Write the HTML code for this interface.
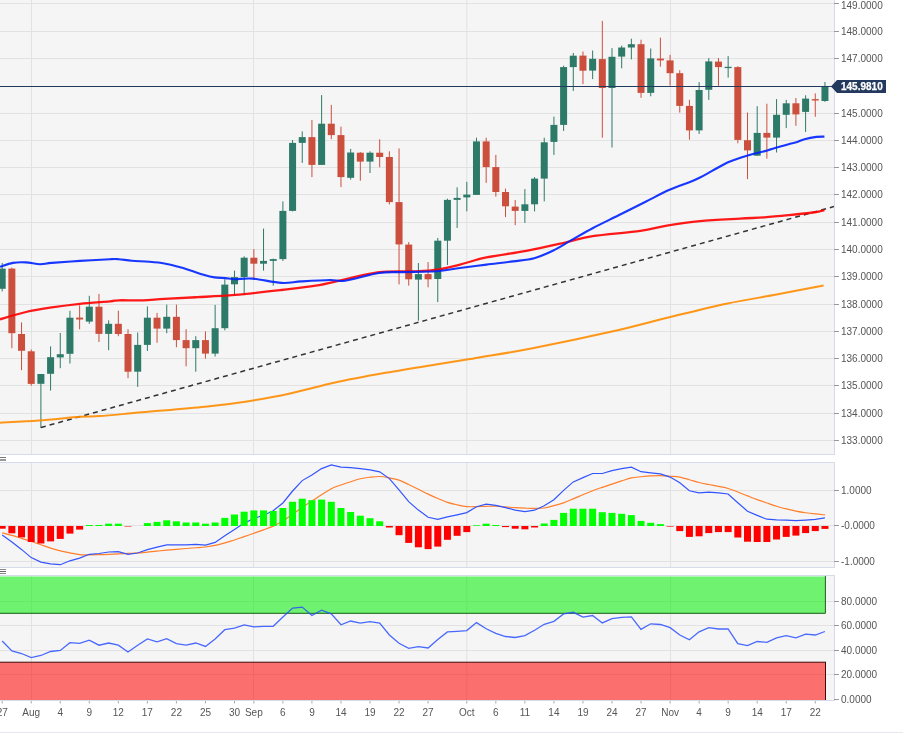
<!DOCTYPE html><html><head><meta charset="utf-8"><style>html,body{margin:0;padding:0;background:#fff;overflow:hidden}svg{display:block;will-change:transform}text{font-family:"Liberation Sans",sans-serif;font-size:10px;fill:#555}</style></head><body>
<svg width="905" height="735" viewBox="0 0 905 735">
<rect x="0" y="0" width="905" height="735" fill="#fff"/>
<rect x="0" y="0" width="834" height="454" fill="#f5f5f5"/>
<rect x="0" y="462" width="834" height="105" fill="#f5f5f5"/>
<rect x="0" y="575" width="834" height="126" fill="#f5f5f5"/>
<rect x="0" y="440" width="834" height="1" fill="#e2e2e2"/>
<rect x="0" y="413" width="834" height="1" fill="#e2e2e2"/>
<rect x="0" y="385" width="834" height="1" fill="#e2e2e2"/>
<rect x="0" y="358" width="834" height="1" fill="#e2e2e2"/>
<rect x="0" y="331" width="834" height="1" fill="#e2e2e2"/>
<rect x="0" y="304" width="834" height="1" fill="#e2e2e2"/>
<rect x="0" y="276" width="834" height="1" fill="#e2e2e2"/>
<rect x="0" y="249" width="834" height="1" fill="#e2e2e2"/>
<rect x="0" y="222" width="834" height="1" fill="#e2e2e2"/>
<rect x="0" y="194" width="834" height="1" fill="#e2e2e2"/>
<rect x="0" y="167" width="834" height="1" fill="#e2e2e2"/>
<rect x="0" y="140" width="834" height="1" fill="#e2e2e2"/>
<rect x="0" y="113" width="834" height="1" fill="#e2e2e2"/>
<rect x="0" y="86" width="834" height="1" fill="#e2e2e2"/>
<rect x="0" y="58" width="834" height="1" fill="#e2e2e2"/>
<rect x="0" y="31" width="834" height="1" fill="#e2e2e2"/>
<rect x="0" y="3" width="834" height="1" fill="#e2e2e2"/>
<rect x="0" y="490" width="834" height="1" fill="#e2e2e2"/>
<rect x="0" y="525" width="834" height="1" fill="#e2e2e2"/>
<rect x="0" y="561" width="834" height="1" fill="#e2e2e2"/>
<rect x="0" y="601" width="834" height="1" fill="#e2e2e2"/>
<rect x="0" y="625" width="834" height="1" fill="#e2e2e2"/>
<rect x="0" y="650" width="834" height="1" fill="#e2e2e2"/>
<rect x="0" y="674" width="834" height="1" fill="#e2e2e2"/>
<line x1="31.50" y1="0" x2="31.50" y2="454" stroke="#e2e2e2" stroke-width="1"/>
<line x1="31.50" y1="462" x2="31.50" y2="567" stroke="#e2e2e2" stroke-width="1"/>
<line x1="31.50" y1="575" x2="31.50" y2="700" stroke="#e2e2e2" stroke-width="1"/>
<line x1="253.50" y1="0" x2="253.50" y2="454" stroke="#e2e2e2" stroke-width="1"/>
<line x1="253.50" y1="462" x2="253.50" y2="567" stroke="#e2e2e2" stroke-width="1"/>
<line x1="253.50" y1="575" x2="253.50" y2="700" stroke="#e2e2e2" stroke-width="1"/>
<line x1="466.80" y1="0" x2="466.80" y2="454" stroke="#e2e2e2" stroke-width="1"/>
<line x1="466.80" y1="462" x2="466.80" y2="567" stroke="#e2e2e2" stroke-width="1"/>
<line x1="466.80" y1="575" x2="466.80" y2="700" stroke="#e2e2e2" stroke-width="1"/>
<line x1="670.60" y1="0" x2="670.60" y2="454" stroke="#e2e2e2" stroke-width="1"/>
<line x1="670.60" y1="462" x2="670.60" y2="567" stroke="#e2e2e2" stroke-width="1"/>
<line x1="670.60" y1="575" x2="670.60" y2="700" stroke="#e2e2e2" stroke-width="1"/>
<rect x="0" y="454" width="835" height="1" fill="#d5dbe8"/>
<rect x="834" y="0" width="1" height="455" fill="#d5dbe8"/>
<rect x="0" y="462" width="835" height="1" fill="#d5dbe8"/>
<rect x="0" y="567" width="835" height="1" fill="#d5dbe8"/>
<rect x="834" y="462" width="1" height="106" fill="#d5dbe8"/>
<rect x="0" y="575" width="835" height="1" fill="#d5dbe8"/>
<rect x="0" y="700" width="835" height="1" fill="#d5dbe8"/>
<rect x="834" y="575" width="1" height="126" fill="#d5dbe8"/>
<rect x="0" y="457" width="6" height="1" fill="#777"/><rect x="0" y="459" width="6" height="2" fill="#999"/>
<rect x="0" y="569" width="6" height="1" fill="#888"/><rect x="0" y="571" width="6" height="1" fill="#666"/><rect x="0" y="573" width="6" height="1" fill="#888"/>
<defs><clipPath id="cp"><rect x="0" y="0" width="834" height="454"/></clipPath><clipPath id="cm"><rect x="0" y="463" width="834" height="104"/></clipPath><clipPath id="cr"><rect x="0" y="576" width="834" height="124"/></clipPath></defs>
<g clip-path="url(#cp)">
<rect x="1.68" y="262.9" width="1" height="28.5" fill="#2e7a69"/>
<rect x="-1.32" y="268.6" width="7" height="20.2" fill="#2e7a69"/>
<rect x="11.36" y="267.6" width="1" height="80.6" fill="#cc4f3d"/>
<rect x="8.36" y="268.6" width="7" height="64.6" fill="#cc4f3d"/>
<rect x="21.04" y="322.4" width="1" height="47.8" fill="#cc4f3d"/>
<rect x="18.04" y="334.0" width="7" height="16.8" fill="#cc4f3d"/>
<rect x="30.72" y="349.5" width="1" height="36.2" fill="#cc4f3d"/>
<rect x="27.72" y="351.3" width="7" height="32.6" fill="#cc4f3d"/>
<rect x="40.40" y="374.0" width="1" height="54.0" fill="#2e7a69"/>
<rect x="37.40" y="374.0" width="7" height="9.8" fill="#2e7a69"/>
<rect x="50.08" y="346.4" width="1" height="44.2" fill="#2e7a69"/>
<rect x="47.08" y="357.2" width="7" height="16.6" fill="#2e7a69"/>
<rect x="59.76" y="333.0" width="1" height="35.2" fill="#2e7a69"/>
<rect x="56.76" y="354.2" width="7" height="3.2" fill="#2e7a69"/>
<rect x="69.44" y="310.8" width="1" height="52.7" fill="#2e7a69"/>
<rect x="66.44" y="317.7" width="7" height="36.1" fill="#2e7a69"/>
<rect x="79.12" y="305.3" width="1" height="24.0" fill="#cc4f3d"/>
<rect x="76.12" y="317.6" width="7" height="1.9" fill="#cc4f3d"/>
<rect x="88.80" y="295.8" width="1" height="28.0" fill="#2e7a69"/>
<rect x="85.80" y="306.7" width="7" height="14.9" fill="#2e7a69"/>
<rect x="98.48" y="293.9" width="1" height="48.1" fill="#cc4f3d"/>
<rect x="95.48" y="306.7" width="7" height="27.2" fill="#cc4f3d"/>
<rect x="108.16" y="320.3" width="1" height="29.9" fill="#2e7a69"/>
<rect x="105.16" y="323.8" width="7" height="10.1" fill="#2e7a69"/>
<rect x="117.84" y="310.7" width="1" height="25.5" fill="#cc4f3d"/>
<rect x="114.84" y="323.8" width="7" height="10.2" fill="#cc4f3d"/>
<rect x="127.51" y="329.2" width="1" height="49.0" fill="#cc4f3d"/>
<rect x="124.51" y="334.0" width="7" height="37.7" fill="#cc4f3d"/>
<rect x="137.19" y="332.5" width="1" height="54.4" fill="#2e7a69"/>
<rect x="134.19" y="344.9" width="7" height="26.8" fill="#2e7a69"/>
<rect x="146.87" y="306.4" width="1" height="44.6" fill="#2e7a69"/>
<rect x="143.87" y="317.7" width="7" height="27.2" fill="#2e7a69"/>
<rect x="156.55" y="312.9" width="1" height="29.8" fill="#cc4f3d"/>
<rect x="153.55" y="317.7" width="7" height="10.9" fill="#cc4f3d"/>
<rect x="166.23" y="304.6" width="1" height="28.6" fill="#2e7a69"/>
<rect x="163.23" y="316.8" width="7" height="11.8" fill="#2e7a69"/>
<rect x="175.91" y="304.6" width="1" height="42.7" fill="#cc4f3d"/>
<rect x="172.91" y="316.8" width="7" height="23.3" fill="#cc4f3d"/>
<rect x="185.59" y="329.2" width="1" height="37.1" fill="#cc4f3d"/>
<rect x="182.59" y="340.1" width="7" height="8.1" fill="#cc4f3d"/>
<rect x="195.27" y="336.2" width="1" height="35.5" fill="#2e7a69"/>
<rect x="192.27" y="340.1" width="7" height="8.1" fill="#2e7a69"/>
<rect x="204.95" y="331.4" width="1" height="27.2" fill="#cc4f3d"/>
<rect x="201.95" y="340.1" width="7" height="13.5" fill="#cc4f3d"/>
<rect x="214.63" y="304.9" width="1" height="51.6" fill="#2e7a69"/>
<rect x="211.63" y="328.2" width="7" height="25.4" fill="#2e7a69"/>
<rect x="224.31" y="279.2" width="1" height="51.1" fill="#2e7a69"/>
<rect x="221.31" y="284.6" width="7" height="43.6" fill="#2e7a69"/>
<rect x="233.99" y="270.6" width="1" height="25.1" fill="#2e7a69"/>
<rect x="230.99" y="277.1" width="7" height="7.2" fill="#2e7a69"/>
<rect x="243.67" y="256.3" width="1" height="38.8" fill="#2e7a69"/>
<rect x="240.67" y="257.7" width="7" height="19.4" fill="#2e7a69"/>
<rect x="253.35" y="249.1" width="1" height="29.5" fill="#cc4f3d"/>
<rect x="250.35" y="257.7" width="7" height="6.0" fill="#cc4f3d"/>
<rect x="263.03" y="228.6" width="1" height="42.0" fill="#2e7a69"/>
<rect x="260.03" y="260.9" width="7" height="2.8" fill="#2e7a69"/>
<rect x="272.71" y="258.6" width="1" height="27.1" fill="#2e7a69"/>
<rect x="269.71" y="259.1" width="7" height="1.8" fill="#2e7a69"/>
<rect x="282.39" y="201.4" width="1" height="59.5" fill="#2e7a69"/>
<rect x="279.39" y="210.9" width="7" height="48.2" fill="#2e7a69"/>
<rect x="292.07" y="140.0" width="1" height="71.4" fill="#2e7a69"/>
<rect x="289.07" y="142.9" width="7" height="68.0" fill="#2e7a69"/>
<rect x="301.75" y="131.4" width="1" height="31.5" fill="#2e7a69"/>
<rect x="298.75" y="137.1" width="7" height="5.8" fill="#2e7a69"/>
<rect x="311.43" y="120.0" width="1" height="57.1" fill="#cc4f3d"/>
<rect x="308.43" y="137.1" width="7" height="27.8" fill="#cc4f3d"/>
<rect x="321.11" y="95.1" width="1" height="69.8" fill="#2e7a69"/>
<rect x="318.11" y="123.7" width="7" height="41.2" fill="#2e7a69"/>
<rect x="330.79" y="104.9" width="1" height="34.2" fill="#cc4f3d"/>
<rect x="327.79" y="123.7" width="7" height="11.4" fill="#cc4f3d"/>
<rect x="340.47" y="126.6" width="1" height="60.5" fill="#cc4f3d"/>
<rect x="337.47" y="135.1" width="7" height="42.0" fill="#cc4f3d"/>
<rect x="350.15" y="148.9" width="1" height="30.7" fill="#2e7a69"/>
<rect x="347.15" y="152.5" width="7" height="25.3" fill="#2e7a69"/>
<rect x="359.83" y="152.1" width="1" height="28.6" fill="#cc4f3d"/>
<rect x="356.83" y="152.7" width="7" height="8.9" fill="#cc4f3d"/>
<rect x="369.50" y="151.3" width="1" height="21.7" fill="#2e7a69"/>
<rect x="366.50" y="152.7" width="7" height="8.9" fill="#2e7a69"/>
<rect x="379.18" y="139.3" width="1" height="28.0" fill="#cc4f3d"/>
<rect x="376.18" y="152.7" width="7" height="4.3" fill="#cc4f3d"/>
<rect x="388.86" y="151.3" width="1" height="53.1" fill="#cc4f3d"/>
<rect x="385.86" y="157.0" width="7" height="45.1" fill="#cc4f3d"/>
<rect x="398.54" y="148.4" width="1" height="136.0" fill="#cc4f3d"/>
<rect x="395.54" y="202.1" width="7" height="42.3" fill="#cc4f3d"/>
<rect x="408.22" y="242.1" width="1" height="43.5" fill="#cc4f3d"/>
<rect x="405.22" y="244.6" width="7" height="34.7" fill="#cc4f3d"/>
<rect x="417.90" y="263.0" width="1" height="57.7" fill="#2e7a69"/>
<rect x="414.90" y="274.1" width="7" height="5.5" fill="#2e7a69"/>
<rect x="427.58" y="262.1" width="1" height="25.2" fill="#cc4f3d"/>
<rect x="424.58" y="274.1" width="7" height="5.2" fill="#cc4f3d"/>
<rect x="437.26" y="237.9" width="1" height="64.2" fill="#2e7a69"/>
<rect x="434.26" y="240.7" width="7" height="38.3" fill="#2e7a69"/>
<rect x="446.94" y="198.7" width="1" height="66.3" fill="#2e7a69"/>
<rect x="443.94" y="199.9" width="7" height="40.8" fill="#2e7a69"/>
<rect x="456.62" y="187.3" width="1" height="40.6" fill="#2e7a69"/>
<rect x="453.62" y="197.9" width="7" height="2.0" fill="#2e7a69"/>
<rect x="466.30" y="181.8" width="1" height="29.5" fill="#2e7a69"/>
<rect x="463.30" y="194.6" width="7" height="2.8" fill="#2e7a69"/>
<rect x="475.98" y="137.7" width="1" height="57.2" fill="#2e7a69"/>
<rect x="472.98" y="141.4" width="7" height="53.5" fill="#2e7a69"/>
<rect x="485.66" y="137.7" width="1" height="45.2" fill="#cc4f3d"/>
<rect x="482.66" y="141.4" width="7" height="25.7" fill="#cc4f3d"/>
<rect x="495.34" y="154.9" width="1" height="41.7" fill="#cc4f3d"/>
<rect x="492.34" y="167.1" width="7" height="24.9" fill="#cc4f3d"/>
<rect x="505.02" y="188.6" width="1" height="28.5" fill="#cc4f3d"/>
<rect x="502.02" y="192.0" width="7" height="14.3" fill="#cc4f3d"/>
<rect x="514.70" y="200.0" width="1" height="25.1" fill="#cc4f3d"/>
<rect x="511.70" y="206.6" width="7" height="4.3" fill="#cc4f3d"/>
<rect x="524.38" y="189.1" width="1" height="33.8" fill="#2e7a69"/>
<rect x="521.38" y="204.3" width="7" height="6.6" fill="#2e7a69"/>
<rect x="534.06" y="177.1" width="1" height="34.3" fill="#2e7a69"/>
<rect x="531.06" y="178.6" width="7" height="25.7" fill="#2e7a69"/>
<rect x="543.74" y="137.7" width="1" height="63.7" fill="#2e7a69"/>
<rect x="540.74" y="142.3" width="7" height="36.3" fill="#2e7a69"/>
<rect x="553.42" y="116.6" width="1" height="38.3" fill="#2e7a69"/>
<rect x="550.42" y="124.9" width="7" height="17.0" fill="#2e7a69"/>
<rect x="563.10" y="65.7" width="1" height="65.2" fill="#2e7a69"/>
<rect x="560.10" y="67.1" width="7" height="57.8" fill="#2e7a69"/>
<rect x="572.78" y="52.9" width="1" height="38.0" fill="#2e7a69"/>
<rect x="569.78" y="55.7" width="7" height="11.4" fill="#2e7a69"/>
<rect x="582.46" y="51.5" width="1" height="32.6" fill="#cc4f3d"/>
<rect x="579.46" y="55.6" width="7" height="15.1" fill="#cc4f3d"/>
<rect x="592.14" y="50.5" width="1" height="28.6" fill="#2e7a69"/>
<rect x="589.14" y="58.8" width="7" height="11.8" fill="#2e7a69"/>
<rect x="601.82" y="20.9" width="1" height="116.8" fill="#cc4f3d"/>
<rect x="598.82" y="59.1" width="7" height="28.9" fill="#cc4f3d"/>
<rect x="611.49" y="48.1" width="1" height="99.4" fill="#2e7a69"/>
<rect x="608.49" y="56.8" width="7" height="31.2" fill="#2e7a69"/>
<rect x="621.17" y="45.6" width="1" height="22.7" fill="#2e7a69"/>
<rect x="618.17" y="47.5" width="7" height="9.1" fill="#2e7a69"/>
<rect x="630.85" y="38.7" width="1" height="20.7" fill="#2e7a69"/>
<rect x="627.85" y="44.2" width="7" height="3.3" fill="#2e7a69"/>
<rect x="640.53" y="39.7" width="1" height="58.1" fill="#cc4f3d"/>
<rect x="637.53" y="44.2" width="7" height="48.7" fill="#cc4f3d"/>
<rect x="650.21" y="48.5" width="1" height="47.8" fill="#2e7a69"/>
<rect x="647.21" y="58.4" width="7" height="34.5" fill="#2e7a69"/>
<rect x="659.89" y="37.7" width="1" height="29.0" fill="#cc4f3d"/>
<rect x="656.89" y="58.6" width="7" height="1.8" fill="#cc4f3d"/>
<rect x="669.57" y="54.8" width="1" height="30.8" fill="#cc4f3d"/>
<rect x="666.57" y="60.4" width="7" height="12.8" fill="#cc4f3d"/>
<rect x="679.25" y="70.2" width="1" height="42.4" fill="#cc4f3d"/>
<rect x="676.25" y="73.2" width="7" height="32.7" fill="#cc4f3d"/>
<rect x="688.93" y="99.8" width="1" height="39.9" fill="#cc4f3d"/>
<rect x="685.93" y="105.9" width="7" height="24.5" fill="#cc4f3d"/>
<rect x="698.61" y="82.1" width="1" height="51.9" fill="#2e7a69"/>
<rect x="695.61" y="90.0" width="7" height="40.4" fill="#2e7a69"/>
<rect x="708.29" y="58.0" width="1" height="41.9" fill="#2e7a69"/>
<rect x="705.29" y="61.4" width="7" height="28.4" fill="#2e7a69"/>
<rect x="717.97" y="58.0" width="1" height="27.8" fill="#cc4f3d"/>
<rect x="714.97" y="61.6" width="7" height="5.5" fill="#cc4f3d"/>
<rect x="727.65" y="56.1" width="1" height="21.5" fill="#2e7a69"/>
<rect x="724.65" y="66.8" width="7" height="1.3" fill="#2e7a69"/>
<rect x="737.33" y="66.2" width="1" height="77.1" fill="#cc4f3d"/>
<rect x="734.33" y="67.1" width="7" height="72.8" fill="#cc4f3d"/>
<rect x="747.01" y="112.5" width="1" height="66.6" fill="#cc4f3d"/>
<rect x="744.01" y="140.2" width="7" height="10.2" fill="#cc4f3d"/>
<rect x="756.69" y="106.2" width="1" height="49.5" fill="#2e7a69"/>
<rect x="753.69" y="132.9" width="7" height="22.8" fill="#2e7a69"/>
<rect x="766.37" y="103.7" width="1" height="54.9" fill="#cc4f3d"/>
<rect x="763.37" y="132.9" width="7" height="4.7" fill="#cc4f3d"/>
<rect x="776.05" y="99.1" width="1" height="53.4" fill="#2e7a69"/>
<rect x="773.05" y="114.8" width="7" height="22.8" fill="#2e7a69"/>
<rect x="785.73" y="99.9" width="1" height="28.2" fill="#2e7a69"/>
<rect x="782.73" y="103.3" width="7" height="11.5" fill="#2e7a69"/>
<rect x="795.41" y="98.0" width="1" height="27.8" fill="#cc4f3d"/>
<rect x="792.41" y="103.3" width="7" height="11.1" fill="#cc4f3d"/>
<rect x="805.09" y="95.3" width="1" height="36.6" fill="#2e7a69"/>
<rect x="802.09" y="98.6" width="7" height="13.3" fill="#2e7a69"/>
<rect x="814.77" y="93.4" width="1" height="23.3" fill="#cc4f3d"/>
<rect x="811.77" y="99.1" width="7" height="1.4" fill="#cc4f3d"/>
<rect x="824.45" y="82.0" width="1" height="19.8" fill="#2e7a69"/>
<rect x="821.45" y="86.2" width="7" height="14.8" fill="#2e7a69"/>
<line x1="40.9" y1="427.5" x2="834" y2="206.5" stroke="#333" stroke-width="1.5" stroke-dasharray="5,4"/>
<path d="M0.00,422.70 C6.47,422.35 25.47,421.58 38.80,420.60 C52.13,419.62 69.80,417.55 80.00,416.80 C90.20,416.05 89.67,416.85 100.00,416.10 C110.33,415.35 124.50,413.85 142.00,412.30 C159.50,410.75 187.50,408.62 205.00,406.80 C222.50,404.98 233.00,403.57 247.00,401.40 C261.00,399.23 274.32,396.95 289.00,393.80 C303.68,390.65 319.02,386.00 335.10,382.50 C351.18,379.00 368.70,375.82 385.50,372.80 C402.30,369.78 421.82,366.68 435.90,364.40 C449.98,362.12 462.65,360.28 470.00,359.10 C477.35,357.92 469.78,359.07 480.00,357.30 C490.22,355.53 509.12,352.83 531.30,348.50 C553.48,344.17 589.93,336.55 613.10,331.30 C636.27,326.05 651.22,321.63 670.30,317.00 C689.38,312.37 709.88,307.25 727.60,303.50 C745.32,299.75 760.60,297.50 776.60,294.50 C792.60,291.50 815.77,287.00 823.60,285.50" fill="none" stroke="#ff8c00" stroke-opacity="0.9" stroke-width="2.0" stroke-linejoin="round"/>
<path d="M0.00,319.30 C4.32,318.08 17.27,313.98 25.90,312.00 C34.53,310.02 42.78,308.77 51.80,307.40 C60.82,306.03 70.30,304.80 80.00,303.80 C89.70,302.80 103.55,301.98 110.00,301.40 C116.45,300.82 113.25,300.48 118.70,300.30 C124.15,300.12 135.08,300.55 142.70,300.30 C150.32,300.05 155.33,299.32 164.40,298.80 C173.47,298.28 185.33,297.85 197.10,297.20 C208.87,296.55 220.95,296.10 235.00,294.90 C249.05,293.70 267.97,291.53 281.40,290.00 C294.83,288.47 305.00,287.48 315.60,285.70 C326.20,283.92 334.40,281.57 345.00,279.30 C355.60,277.03 367.32,273.43 379.20,272.10 C391.08,270.77 406.30,271.77 416.30,271.30 C426.30,270.83 431.92,270.42 439.20,269.30 C446.48,268.18 452.12,266.58 460.00,264.60 C467.88,262.62 475.45,259.70 486.50,257.40 C497.55,255.10 513.03,253.32 526.30,250.80 C539.57,248.28 555.05,244.73 566.10,242.30 C577.15,239.87 580.23,238.10 592.60,236.20 C604.97,234.30 627.93,232.67 640.30,230.90 C652.67,229.13 656.85,227.23 666.80,225.60 C676.75,223.97 687.80,222.27 700.00,221.10 C712.20,219.93 729.28,219.22 740.00,218.60 C750.72,217.98 756.20,217.97 764.30,217.40 C772.40,216.83 780.50,216.02 788.60,215.20 C796.70,214.38 806.92,213.35 812.90,212.50 C818.88,211.65 822.57,210.50 824.50,210.10" fill="none" stroke="#ff0000" stroke-opacity="0.9" stroke-width="2.3" stroke-linejoin="round"/>
<path d="M0.00,266.80 C2.15,266.15 8.58,263.63 12.90,262.90 C17.22,262.17 21.37,262.18 25.90,262.40 C30.43,262.62 35.78,264.12 40.10,264.20 C44.42,264.28 45.15,263.45 51.80,262.90 C58.45,262.35 70.30,261.52 80.00,260.90 C89.70,260.28 103.55,259.48 110.00,259.20 C116.45,258.92 115.07,258.95 118.70,259.20 C122.33,259.45 126.72,260.27 131.80,260.70 C136.88,261.13 143.77,261.33 149.20,261.80 C154.63,262.27 159.68,262.70 164.40,263.50 C169.12,264.30 173.13,265.43 177.50,266.60 C181.87,267.77 186.25,269.13 190.60,270.50 C194.95,271.87 199.62,273.65 203.60,274.80 C207.58,275.95 210.87,276.85 214.50,277.40 C218.13,277.95 221.98,277.80 225.40,278.10 C228.82,278.40 230.43,279.12 235.00,279.20 C239.57,279.28 245.07,277.98 252.80,278.60 C260.53,279.22 273.32,282.43 281.40,282.90 C289.48,283.37 293.22,281.88 301.30,281.40 C309.38,280.92 322.62,280.12 329.90,280.00 C337.18,279.88 336.78,281.87 345.00,280.70 C353.22,279.53 369.70,274.43 379.20,273.00 C388.70,271.57 392.48,272.38 402.00,272.10 C411.52,271.82 426.63,271.98 436.30,271.30 C445.97,270.62 451.63,269.12 460.00,268.00 C468.37,266.88 477.67,265.70 486.50,264.60 C495.33,263.50 505.03,262.47 513.00,261.40 C520.97,260.33 527.67,259.97 534.30,258.20 C540.93,256.43 546.62,253.80 552.80,250.80 C558.98,247.80 564.77,243.97 571.40,240.20 C578.03,236.43 584.65,232.40 592.60,228.20 C600.55,224.00 610.27,219.42 619.10,215.00 C627.93,210.58 637.20,205.90 645.60,201.70 C654.00,197.50 662.10,193.08 669.50,189.80 C676.90,186.52 684.92,184.05 690.00,182.00 C695.08,179.95 696.32,179.35 700.00,177.50 C703.68,175.65 707.32,173.48 712.10,170.90 C716.88,168.32 722.80,164.55 728.70,162.00 C734.60,159.45 741.07,157.53 747.50,155.60 C753.93,153.67 760.22,152.37 767.30,150.40 C774.38,148.43 785.13,145.17 790.00,143.80 C794.87,142.43 794.08,142.97 796.50,142.20 C798.92,141.43 801.18,140.08 804.50,139.20 C807.82,138.32 813.08,137.33 816.40,136.90 C819.72,136.47 823.07,136.65 824.40,136.60" fill="none" stroke="#0022ff" stroke-opacity="0.9" stroke-width="2.1" stroke-linejoin="round"/>
<rect x="0" y="86" width="834" height="1" fill="#23395d"/>
</g>
<rect x="834" y="440" width="5" height="1" fill="#999"/>
<text x="841" y="444">133.0000</text>
<rect x="834" y="413" width="5" height="1" fill="#999"/>
<text x="841" y="417">134.0000</text>
<rect x="834" y="385" width="5" height="1" fill="#999"/>
<text x="841" y="389">135.0000</text>
<rect x="834" y="358" width="5" height="1" fill="#999"/>
<text x="841" y="362">136.0000</text>
<rect x="834" y="331" width="5" height="1" fill="#999"/>
<text x="841" y="335">137.0000</text>
<rect x="834" y="304" width="5" height="1" fill="#999"/>
<text x="841" y="308">138.0000</text>
<rect x="834" y="276" width="5" height="1" fill="#999"/>
<text x="841" y="280">139.0000</text>
<rect x="834" y="249" width="5" height="1" fill="#999"/>
<text x="841" y="253">140.0000</text>
<rect x="834" y="222" width="5" height="1" fill="#999"/>
<text x="841" y="226">141.0000</text>
<rect x="834" y="194" width="5" height="1" fill="#999"/>
<text x="841" y="198">142.0000</text>
<rect x="834" y="167" width="5" height="1" fill="#999"/>
<text x="841" y="171">143.0000</text>
<rect x="834" y="140" width="5" height="1" fill="#999"/>
<text x="841" y="144">144.0000</text>
<rect x="834" y="113" width="5" height="1" fill="#999"/>
<text x="841" y="117">145.0000</text>
<rect x="834" y="58" width="5" height="1" fill="#999"/>
<text x="841" y="62">147.0000</text>
<rect x="834" y="31" width="5" height="1" fill="#999"/>
<text x="841" y="35">148.0000</text>
<rect x="834" y="3" width="5" height="1" fill="#999"/>
<text x="841" y="8.5">149.0000</text>
<path d="M831,86.5 L837,80 L886,80 L886,93 L837,93 Z" fill="#23395d"/>
<text x="841" y="90" style="font-weight:bold;fill:#fff;stroke:#fff;stroke-width:0.25">145.9810</text>
<g clip-path="url(#cm)">
<path d="M2.18,532.83 C3.79,533.25 8.63,534.41 11.86,535.33 C15.09,536.26 18.31,537.34 21.54,538.36 C24.77,539.38 27.99,540.40 31.22,541.47 C34.45,542.54 37.67,543.68 40.90,544.78 C44.12,545.88 47.35,547.07 50.58,548.08 C53.80,549.08 57.03,550.02 60.26,550.82 C63.48,551.63 66.71,552.24 69.94,552.88 C73.16,553.52 76.39,554.35 79.62,554.66 C82.84,554.98 86.07,554.80 89.30,554.79 C92.52,554.79 95.75,554.71 98.98,554.63 C102.20,554.56 105.43,554.44 108.66,554.32 C111.88,554.21 115.11,554.07 118.34,553.92 C121.56,553.78 124.79,553.62 128.01,553.46 C131.24,553.30 134.47,553.20 137.69,552.97 C140.92,552.74 144.15,552.40 147.37,552.09 C150.60,551.79 153.83,551.47 157.05,551.15 C160.28,550.83 163.51,550.49 166.73,550.18 C169.96,549.87 173.19,549.57 176.41,549.29 C179.64,549.01 182.87,548.75 186.09,548.50 C189.32,548.24 192.55,548.02 195.77,547.77 C199.00,547.52 202.23,547.39 205.45,547.00 C208.68,546.61 211.90,546.11 215.13,545.42 C218.36,544.72 221.58,543.76 224.81,542.85 C228.04,541.94 231.26,541.00 234.49,539.96 C237.72,538.92 240.94,537.74 244.17,536.63 C247.40,535.51 250.62,534.39 253.85,533.26 C257.08,532.12 260.30,531.01 263.53,529.82 C266.76,528.62 269.98,527.54 273.21,526.08 C276.44,524.62 279.66,523.02 282.89,521.06 C286.11,519.10 289.34,516.60 292.57,514.32 C295.79,512.04 299.02,509.63 302.25,507.40 C305.47,505.17 308.70,503.07 311.93,500.95 C315.15,498.83 318.38,496.70 321.61,494.66 C324.83,492.63 328.06,490.34 331.29,488.73 C334.51,487.11 337.74,486.15 340.97,484.98 C344.19,483.81 347.42,482.76 350.65,481.72 C353.87,480.67 357.10,479.48 360.33,478.73 C363.55,477.98 366.78,477.60 370.00,477.22 C373.23,476.85 376.46,476.39 379.68,476.50 C382.91,476.61 386.14,477.27 389.36,477.88 C392.59,478.50 395.82,479.07 399.04,480.18 C402.27,481.29 405.50,483.02 408.72,484.54 C411.95,486.06 415.18,487.70 418.40,489.29 C421.63,490.88 424.86,492.55 428.08,494.09 C431.31,495.62 434.54,497.12 437.76,498.50 C440.99,499.88 444.22,501.32 447.44,502.37 C450.67,503.43 453.89,504.12 457.12,504.82 C460.35,505.53 463.57,506.30 466.80,506.61 C470.03,506.92 473.25,506.70 476.48,506.66 C479.71,506.61 482.93,506.42 486.16,506.34 C489.39,506.27 492.61,506.11 495.84,506.20 C499.07,506.29 502.29,506.63 505.52,506.88 C508.75,507.12 511.97,507.45 515.20,507.67 C518.43,507.88 521.65,508.05 524.88,508.18 C528.10,508.31 531.33,508.48 534.56,508.45 C537.78,508.41 541.01,508.44 544.24,507.97 C547.46,507.51 550.69,506.52 553.92,505.66 C557.14,504.80 560.37,503.93 563.60,502.81 C566.82,501.68 570.05,500.26 573.28,498.92 C576.50,497.58 579.73,496.14 582.96,494.78 C586.18,493.41 589.41,491.98 592.64,490.73 C595.86,489.49 599.09,488.43 602.32,487.32 C605.54,486.21 608.77,485.13 611.99,484.06 C615.22,482.99 618.45,481.90 621.67,480.88 C624.90,479.87 628.13,478.64 631.35,477.96 C634.58,477.27 637.81,477.12 641.03,476.77 C644.26,476.43 647.49,476.09 650.71,475.89 C653.94,475.70 657.17,475.54 660.39,475.60 C663.62,475.66 666.85,475.98 670.07,476.24 C673.30,476.50 676.53,476.59 679.75,477.18 C682.98,477.76 686.21,478.88 689.43,479.77 C692.66,480.65 695.88,481.69 699.11,482.48 C702.34,483.27 705.56,483.87 708.79,484.53 C712.02,485.18 715.24,485.76 718.47,486.42 C721.70,487.08 724.92,487.55 728.15,488.48 C731.38,489.42 734.60,490.80 737.83,492.03 C741.06,493.26 744.28,494.60 747.51,495.86 C750.74,497.12 753.96,498.41 757.19,499.59 C760.42,500.78 763.64,501.86 766.87,502.97 C770.09,504.07 773.32,505.23 776.55,506.23 C779.77,507.23 783.00,508.14 786.23,508.95 C789.45,509.76 792.68,510.44 795.91,511.07 C799.13,511.71 802.36,512.26 805.59,512.74 C808.81,513.22 812.04,513.59 815.27,513.94 C818.49,514.30 823.33,514.74 824.95,514.90" fill="none" stroke="#ff7f2a" stroke-width="1.2"/>
<polyline points="2.2,535.1 11.9,542.0 21.5,549.4 31.2,557.6 40.9,562.1 50.6,563.8 60.3,564.7 69.9,560.8 79.6,558.1 89.3,554.3 99.0,553.5 108.7,552.0 118.3,551.6 128.0,554.4 137.7,553.0 147.4,549.6 157.1,547.2 166.7,544.8 176.4,544.8 186.1,544.8 195.8,544.3 205.5,545.2 215.1,542.4 224.8,535.8 234.5,529.5 244.2,523.1 253.8,518.5 263.5,515.3 273.2,510.7 282.9,503.0 292.6,491.0 302.2,480.6 311.9,475.0 321.6,468.6 331.3,464.9 341.0,467.2 350.6,467.7 360.3,468.6 370.0,469.8 379.7,471.8 389.4,478.6 399.0,489.8 408.7,501.6 418.4,510.1 428.1,517.3 437.8,519.3 447.4,516.8 457.1,514.8 466.8,512.6 476.5,506.7 486.2,504.2 495.8,505.4 505.5,507.6 515.2,510.1 524.9,511.7 534.6,510.2 544.2,505.7 553.9,499.8 563.6,490.4 573.3,481.9 583.0,477.6 592.6,473.5 602.3,473.5 612.0,470.7 621.7,468.6 631.4,467.2 641.0,471.7 650.7,472.8 660.4,473.9 670.1,477.1 679.8,482.8 689.4,490.8 699.1,492.9 708.8,492.1 718.5,492.8 728.1,494.0 737.8,502.8 747.5,511.2 757.2,515.4 766.9,519.2 776.5,519.8 786.2,520.1 795.9,520.7 805.6,520.1 815.3,519.3 824.9,517.9" fill="none" stroke="#3355ff" stroke-width="1.2"/>
<rect x="-1.32" y="526.0" width="7" height="2.7" fill="#ff0000"/>
<rect x="8.36" y="526.0" width="7" height="7.3" fill="#ff0000"/>
<rect x="18.04" y="526.0" width="7" height="11.4" fill="#ff0000"/>
<rect x="27.72" y="526.0" width="7" height="16.0" fill="#ff0000"/>
<rect x="37.40" y="526.0" width="7" height="17.5" fill="#ff0000"/>
<rect x="47.08" y="526.0" width="7" height="15.4" fill="#ff0000"/>
<rect x="56.76" y="526.0" width="7" height="12.9" fill="#ff0000"/>
<rect x="66.44" y="526.0" width="7" height="7.6" fill="#ff0000"/>
<rect x="76.12" y="526.0" width="7" height="3.6" fill="#ff0000"/>
<rect x="85.80" y="525.0" width="7" height="1.0" fill="#00ff00"/>
<rect x="95.48" y="525.0" width="7" height="1.0" fill="#00ff00"/>
<rect x="105.16" y="523.7" width="7" height="2.3" fill="#00ff00"/>
<rect x="114.84" y="523.7" width="7" height="2.3" fill="#00ff00"/>
<rect x="124.51" y="526.0" width="7" height="0.5" fill="#ff0000"/>
<rect x="143.87" y="523.1" width="7" height="2.9" fill="#00ff00"/>
<rect x="153.55" y="521.9" width="7" height="4.1" fill="#00ff00"/>
<rect x="163.23" y="520.3" width="7" height="5.7" fill="#00ff00"/>
<rect x="172.91" y="521.3" width="7" height="4.7" fill="#00ff00"/>
<rect x="182.59" y="522.5" width="7" height="3.5" fill="#00ff00"/>
<rect x="192.27" y="522.5" width="7" height="3.5" fill="#00ff00"/>
<rect x="201.95" y="523.7" width="7" height="2.3" fill="#00ff00"/>
<rect x="211.63" y="522.5" width="7" height="3.5" fill="#00ff00"/>
<rect x="221.31" y="517.9" width="7" height="8.1" fill="#00ff00"/>
<rect x="230.99" y="514.5" width="7" height="11.5" fill="#00ff00"/>
<rect x="240.67" y="511.7" width="7" height="14.3" fill="#00ff00"/>
<rect x="250.35" y="510.4" width="7" height="15.6" fill="#00ff00"/>
<rect x="260.03" y="510.4" width="7" height="15.6" fill="#00ff00"/>
<rect x="269.71" y="511.0" width="7" height="15.0" fill="#00ff00"/>
<rect x="279.39" y="508.0" width="7" height="18.0" fill="#00ff00"/>
<rect x="289.07" y="501.8" width="7" height="24.2" fill="#00ff00"/>
<rect x="298.75" y="498.7" width="7" height="27.3" fill="#00ff00"/>
<rect x="308.43" y="500.2" width="7" height="25.8" fill="#00ff00"/>
<rect x="318.11" y="499.6" width="7" height="26.4" fill="#00ff00"/>
<rect x="327.79" y="501.8" width="7" height="24.2" fill="#00ff00"/>
<rect x="337.47" y="508.0" width="7" height="18.0" fill="#00ff00"/>
<rect x="347.15" y="512.0" width="7" height="14.0" fill="#00ff00"/>
<rect x="356.83" y="515.7" width="7" height="10.3" fill="#00ff00"/>
<rect x="366.50" y="518.2" width="7" height="7.8" fill="#00ff00"/>
<rect x="376.18" y="521.3" width="7" height="4.7" fill="#00ff00"/>
<rect x="385.86" y="526.0" width="7" height="1.5" fill="#ff0000"/>
<rect x="395.54" y="526.0" width="7" height="9.2" fill="#ff0000"/>
<rect x="405.22" y="526.0" width="7" height="16.9" fill="#ff0000"/>
<rect x="414.90" y="526.0" width="7" height="21.3" fill="#ff0000"/>
<rect x="424.58" y="526.0" width="7" height="23.1" fill="#ff0000"/>
<rect x="434.26" y="526.0" width="7" height="20.6" fill="#ff0000"/>
<rect x="443.94" y="526.0" width="7" height="13.8" fill="#ff0000"/>
<rect x="453.62" y="526.0" width="7" height="9.8" fill="#ff0000"/>
<rect x="463.30" y="526.0" width="7" height="6.1" fill="#ff0000"/>
<rect x="472.98" y="525.3" width="7" height="0.7" fill="#00ff00"/>
<rect x="482.66" y="523.7" width="7" height="2.3" fill="#00ff00"/>
<rect x="492.34" y="525.0" width="7" height="1.0" fill="#00ff00"/>
<rect x="502.02" y="526.0" width="7" height="1.1" fill="#ff0000"/>
<rect x="511.70" y="526.0" width="7" height="2.7" fill="#ff0000"/>
<rect x="521.38" y="526.0" width="7" height="3.3" fill="#ff0000"/>
<rect x="531.06" y="526.0" width="7" height="1.5" fill="#ff0000"/>
<rect x="540.74" y="523.5" width="7" height="2.5" fill="#00ff00"/>
<rect x="550.42" y="519.9" width="7" height="6.1" fill="#00ff00"/>
<rect x="560.10" y="512.9" width="7" height="13.1" fill="#00ff00"/>
<rect x="569.78" y="508.7" width="7" height="17.3" fill="#00ff00"/>
<rect x="579.46" y="508.7" width="7" height="17.3" fill="#00ff00"/>
<rect x="589.14" y="508.7" width="7" height="17.3" fill="#00ff00"/>
<rect x="598.82" y="512.2" width="7" height="13.8" fill="#00ff00"/>
<rect x="608.49" y="512.9" width="7" height="13.1" fill="#00ff00"/>
<rect x="618.17" y="513.8" width="7" height="12.2" fill="#00ff00"/>
<rect x="627.85" y="515.1" width="7" height="10.9" fill="#00ff00"/>
<rect x="637.53" y="520.9" width="7" height="5.1" fill="#00ff00"/>
<rect x="647.21" y="522.8" width="7" height="3.2" fill="#00ff00"/>
<rect x="656.89" y="524.1" width="7" height="1.9" fill="#00ff00"/>
<rect x="666.57" y="526.0" width="7" height="0.6" fill="#ff0000"/>
<rect x="676.25" y="526.0" width="7" height="5.1" fill="#ff0000"/>
<rect x="685.93" y="526.0" width="7" height="10.9" fill="#ff0000"/>
<rect x="695.61" y="526.0" width="7" height="10.3" fill="#ff0000"/>
<rect x="705.29" y="526.0" width="7" height="7.1" fill="#ff0000"/>
<rect x="714.97" y="526.0" width="7" height="6.1" fill="#ff0000"/>
<rect x="724.65" y="526.0" width="7" height="6.1" fill="#ff0000"/>
<rect x="734.33" y="526.0" width="7" height="11.5" fill="#ff0000"/>
<rect x="744.01" y="526.0" width="7" height="15.7" fill="#ff0000"/>
<rect x="753.69" y="526.0" width="7" height="16.0" fill="#ff0000"/>
<rect x="763.37" y="526.0" width="7" height="16.0" fill="#ff0000"/>
<rect x="773.05" y="526.0" width="7" height="13.5" fill="#ff0000"/>
<rect x="782.73" y="526.0" width="7" height="10.9" fill="#ff0000"/>
<rect x="792.41" y="526.0" width="7" height="9.6" fill="#ff0000"/>
<rect x="802.09" y="526.0" width="7" height="7.1" fill="#ff0000"/>
<rect x="811.77" y="526.0" width="7" height="5.1" fill="#ff0000"/>
<rect x="821.45" y="526.0" width="7" height="2.9" fill="#ff0000"/>
</g>
<rect x="834" y="490" width="5" height="1" fill="#999"/>
<text x="841" y="494">1.0000</text>
<rect x="834" y="525" width="5" height="1" fill="#999"/>
<text x="841" y="529">-0.0000</text>
<rect x="834" y="561" width="5" height="1" fill="#999"/>
<text x="841" y="565">-1.0000</text>
<g clip-path="url(#cr)">
<rect x="0" y="576.5" width="825" height="37" fill="#00ee00" fill-opacity="0.55"/>
<path d="M0,613.3 H825.4 V576" fill="none" stroke="#1a5e1a" stroke-width="1"/>
<rect x="-2" y="662.2" width="827.5" height="40" fill="#ff0000" fill-opacity="0.55" stroke="#400a0a" stroke-width="1"/>
<polyline points="2.2,641.0 11.9,651.0 21.5,653.5 31.2,657.6 40.9,655.5 50.6,651.5 60.3,650.4 69.9,642.7 79.6,643.3 89.3,640.2 99.0,645.2 108.7,643.0 118.3,645.2 128.0,652.0 137.7,645.2 147.4,639.0 157.1,641.8 166.7,638.7 176.4,643.6 186.1,645.2 195.8,643.0 205.5,646.4 215.1,639.0 224.8,629.7 234.5,628.2 244.2,624.8 253.8,626.9 263.5,626.3 273.2,626.3 282.9,617.0 292.6,608.1 302.2,607.1 311.9,615.5 321.6,610.2 331.3,613.9 341.0,624.8 350.6,621.0 360.3,623.2 370.0,621.7 379.7,623.2 389.4,635.0 399.0,643.3 408.7,648.3 418.4,646.7 428.1,648.0 437.8,639.6 447.4,631.9 457.1,631.3 466.8,630.6 476.5,622.6 486.2,628.8 495.8,633.4 505.5,636.5 515.2,637.5 524.9,635.6 534.6,630.3 544.2,624.3 553.9,621.3 563.6,613.9 573.3,612.3 583.0,617.1 592.6,615.5 602.3,622.9 612.0,618.7 621.7,617.4 631.4,616.8 641.0,629.3 650.7,623.8 660.4,624.5 670.1,627.7 679.8,635.0 689.4,639.8 699.1,631.8 708.8,627.7 718.5,629.0 728.1,629.0 737.8,643.7 747.5,645.6 757.2,641.5 766.9,642.4 776.5,637.9 786.2,635.7 795.9,637.9 805.6,634.1 815.3,635.0 824.9,631.5" fill="none" stroke="#2a50ff" stroke-opacity="0.85" stroke-width="1.3"/>
</g>
<rect x="834" y="601" width="5" height="1" fill="#999"/>
<text x="841" y="605">80.0000</text>
<rect x="834" y="625" width="5" height="1" fill="#999"/>
<text x="841" y="629">60.0000</text>
<rect x="834" y="650" width="5" height="1" fill="#999"/>
<text x="841" y="654">40.0000</text>
<rect x="834" y="674" width="5" height="1" fill="#999"/>
<text x="841" y="678">20.0000</text>
<rect x="834" y="699" width="5" height="1" fill="#999"/>
<text x="841" y="703">0.0000</text>
<line x1="2.18" y1="701" x2="2.18" y2="703.5" stroke="#aaa" stroke-width="1"/>
<text x="2.18" y="716" text-anchor="middle">27</text>
<line x1="31.22" y1="701" x2="31.22" y2="703.5" stroke="#aaa" stroke-width="1"/>
<text x="31.22" y="716" text-anchor="middle">Aug</text>
<line x1="60.26" y1="701" x2="60.26" y2="703.5" stroke="#aaa" stroke-width="1"/>
<text x="60.26" y="716" text-anchor="middle">4</text>
<line x1="89.30" y1="701" x2="89.30" y2="703.5" stroke="#aaa" stroke-width="1"/>
<text x="89.30" y="716" text-anchor="middle">9</text>
<line x1="118.34" y1="701" x2="118.34" y2="703.5" stroke="#aaa" stroke-width="1"/>
<text x="118.34" y="716" text-anchor="middle">12</text>
<line x1="147.37" y1="701" x2="147.37" y2="703.5" stroke="#aaa" stroke-width="1"/>
<text x="147.37" y="716" text-anchor="middle">17</text>
<line x1="176.41" y1="701" x2="176.41" y2="703.5" stroke="#aaa" stroke-width="1"/>
<text x="176.41" y="716" text-anchor="middle">22</text>
<line x1="205.45" y1="701" x2="205.45" y2="703.5" stroke="#aaa" stroke-width="1"/>
<text x="205.45" y="716" text-anchor="middle">25</text>
<line x1="234.49" y1="701" x2="234.49" y2="703.5" stroke="#aaa" stroke-width="1"/>
<text x="234.49" y="716" text-anchor="middle">30</text>
<line x1="253.85" y1="701" x2="253.85" y2="703.5" stroke="#aaa" stroke-width="1"/>
<text x="253.85" y="716" text-anchor="middle">Sep</text>
<line x1="282.89" y1="701" x2="282.89" y2="703.5" stroke="#aaa" stroke-width="1"/>
<text x="282.89" y="716" text-anchor="middle">6</text>
<line x1="311.93" y1="701" x2="311.93" y2="703.5" stroke="#aaa" stroke-width="1"/>
<text x="311.93" y="716" text-anchor="middle">9</text>
<line x1="340.97" y1="701" x2="340.97" y2="703.5" stroke="#aaa" stroke-width="1"/>
<text x="340.97" y="716" text-anchor="middle">14</text>
<line x1="370.00" y1="701" x2="370.00" y2="703.5" stroke="#aaa" stroke-width="1"/>
<text x="370.00" y="716" text-anchor="middle">19</text>
<line x1="399.04" y1="701" x2="399.04" y2="703.5" stroke="#aaa" stroke-width="1"/>
<text x="399.04" y="716" text-anchor="middle">22</text>
<line x1="428.08" y1="701" x2="428.08" y2="703.5" stroke="#aaa" stroke-width="1"/>
<text x="428.08" y="716" text-anchor="middle">27</text>
<line x1="466.80" y1="701" x2="466.80" y2="703.5" stroke="#aaa" stroke-width="1"/>
<text x="466.80" y="716" text-anchor="middle">Oct</text>
<line x1="495.84" y1="701" x2="495.84" y2="703.5" stroke="#aaa" stroke-width="1"/>
<text x="495.84" y="716" text-anchor="middle">6</text>
<line x1="524.88" y1="701" x2="524.88" y2="703.5" stroke="#aaa" stroke-width="1"/>
<text x="524.88" y="716" text-anchor="middle">11</text>
<line x1="553.92" y1="701" x2="553.92" y2="703.5" stroke="#aaa" stroke-width="1"/>
<text x="553.92" y="716" text-anchor="middle">14</text>
<line x1="582.96" y1="701" x2="582.96" y2="703.5" stroke="#aaa" stroke-width="1"/>
<text x="582.96" y="716" text-anchor="middle">19</text>
<line x1="611.99" y1="701" x2="611.99" y2="703.5" stroke="#aaa" stroke-width="1"/>
<text x="611.99" y="716" text-anchor="middle">24</text>
<line x1="641.03" y1="701" x2="641.03" y2="703.5" stroke="#aaa" stroke-width="1"/>
<text x="641.03" y="716" text-anchor="middle">27</text>
<line x1="670.07" y1="701" x2="670.07" y2="703.5" stroke="#aaa" stroke-width="1"/>
<text x="670.07" y="716" text-anchor="middle">Nov</text>
<line x1="699.11" y1="701" x2="699.11" y2="703.5" stroke="#aaa" stroke-width="1"/>
<text x="699.11" y="716" text-anchor="middle">4</text>
<line x1="728.15" y1="701" x2="728.15" y2="703.5" stroke="#aaa" stroke-width="1"/>
<text x="728.15" y="716" text-anchor="middle">9</text>
<line x1="757.19" y1="701" x2="757.19" y2="703.5" stroke="#aaa" stroke-width="1"/>
<text x="757.19" y="716" text-anchor="middle">14</text>
<line x1="786.23" y1="701" x2="786.23" y2="703.5" stroke="#aaa" stroke-width="1"/>
<text x="786.23" y="716" text-anchor="middle">17</text>
<line x1="815.27" y1="701" x2="815.27" y2="703.5" stroke="#aaa" stroke-width="1"/>
<text x="815.27" y="716" text-anchor="middle">22</text>
<rect x="0" y="732" width="903" height="1" fill="#e8e6ee"/>
</svg></body></html>
